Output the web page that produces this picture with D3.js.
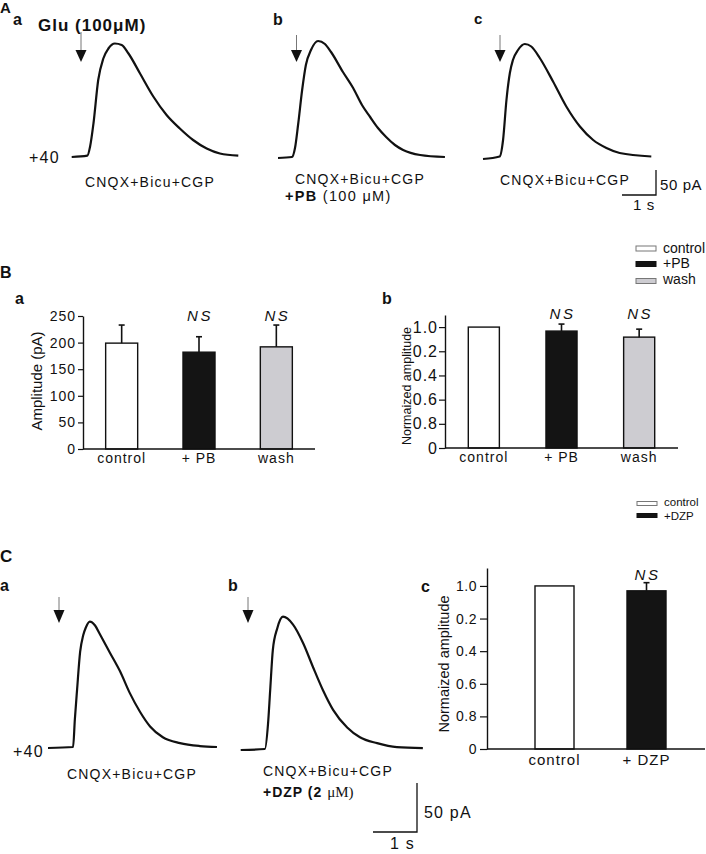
<!DOCTYPE html>
<html>
<head>
<meta charset="utf-8">
<script src="https://cdn.jsdelivr.net/npm/d3@7"></script>
<style>
  html, body { margin: 0; padding: 0; background: #fff; }
  svg { display: block; font-family: "Liberation Sans", Arial, Helvetica, sans-serif; }
</style>
</head>
<body>
<svg id="fig" width="706" height="854"></svg>
<script>
// ---------------- DATA ----------------
// Current traces: [time (s), current (pA)]
const traceA_control = [[0,0],[0.46,2.6],[0.54,20.6],[0.64,67],[0.78,154],[0.93,197],[1.08,217],[1.27,227],[1.47,224],[1.67,207],[2.01,167],[2.40,121],[2.79,84],[3.18,57],[3.57,34],[3.97,17],[4.36,7],[4.90,2.6]];
const traceA_PB = [[0,0],[0.41,2],[0.50,20],[0.59,66],[0.71,136],[0.82,186],[0.97,216],[1.18,234],[1.38,228],[1.56,212],[1.91,172],[2.21,140],[2.47,106],[2.71,82],[2.94,60],[3.18,42],[3.44,26],[3.68,16],[4.18,6],[4.91,2]];
const traceA_wash = [[0,0],[0.49,5],[0.59,38],[0.69,118],[0.79,172],[0.88,198],[1.03,218],[1.23,230],[1.42,225],[1.67,202],[2.06,155],[2.45,105],[2.85,65],[3.24,38],[3.63,22],[4.02,12],[4.95,5]];
const traceC_control = [[0,0],[0.57,1],[0.61,29],[0.66,59],[0.73,98],[0.80,115],[0.86,123],[0.95,129],[1.07,125],[1.18,116],[1.41,97],[1.64,78],[1.86,56],[2.09,37],[2.32,22],[2.61,11],[3.0,5],[3.45,2],[3.84,1]];
const traceC_DZP = [[0,0],[0.55,1],[0.62,26],[0.67,61],[0.73,102],[0.83,124],[0.96,136],[1.19,128],[1.42,109],[1.64,85],[1.87,61],[2.10,41],[2.42,23],[2.71,13],[3.10,7],[3.55,3],[4.14,2]];

// Bar charts
const catsB = ["control", "+ PB", "wash"];
const ampMeanB = [199, 182, 192];
const ampSemB = [34, 29, 41];
const ampTicks = [0, 50, 100, 150, 200, 250];
const normMeanB = [1.0, 0.967, 0.917];
const normSemB = [0, 0.058, 0.066];
const catsC = ["control", "+ DZP"];
const normMeanC = [1.0, 0.97];
const normSemC = [0, 0.05];
const normTickValues = [0, 0.2, 0.4, 0.6, 0.8, 1.0];
const normTickLabels = ["0", "0.8", "0.6", "0.4", "0.2", "1.0"];
const legendB = ["control", "+PB", "wash"];
const legendC = ["control", "+DZP"];
const barFills = ["#ffffff", "#141414", "#cdccd1"];
const nsMarkB = ["", "NS", "NS"];
const nsMarkC = ["", "NS"];

// ---------------- DRAW ----------------
const svg = d3.select("#fig");
const FONT = "'Liberation Sans', Arial, Helvetica, sans-serif";

function txt(x, y, s, o = {}) {
  const t = svg.append("text").attr("x", x).attr("y", y).text(s)
    .attr("font-size", o.size || 14)
    .attr("font-weight", o.bold ? "bold" : "normal")
    .attr("font-style", o.italic ? "italic" : "normal")
    .attr("letter-spacing", o.ls || 0)
    .attr("fill", "#111");
  if (o.anchor) t.attr("text-anchor", o.anchor);
  return t;
}

function arrow(x, yTop, yHead, yTip) {
  svg.append("line").attr("x1", x).attr("x2", x).attr("y1", yTop).attr("y2", yHead)
    .attr("stroke", "#777").attr("stroke-width", 1);
  svg.append("path").attr("d", `M${x-5.5},${yHead} L${x+5.5},${yHead} L${x},${yTip} Z`).attr("fill", "#111");
}

function trace(data, x0, base, pxPerS, pxPerPA) {
  const x = d3.scaleLinear().domain([0, 1]).range([x0, x0 + pxPerS]);
  const y = d3.scaleLinear().domain([0, 1]).range([base, base - pxPerPA]);
  const line = d3.line().x(d => x(d[0])).y(d => y(d[1])).curve(d3.curveMonotoneX);
  svg.append("path").datum(data).attr("d", line)
    .attr("fill", "none").attr("stroke", "#111").attr("stroke-width", 2.2).attr("stroke-linejoin", "round");
  return { x, y };
}

function scaleBar(xRight, yBottom, sx, sy, pA, sec) {
  const h = sy(0) - sy(pA), w = sx(sec) - sx(0);
  svg.append("path").attr("d", `M${xRight - w},${yBottom} L${xRight},${yBottom} L${xRight},${yBottom - h}`)
    .attr("fill", "none").attr("stroke", "#111").attr("stroke-width", 1.3);
}

// ===== Panel A =====
txt(0, 13, "A", { size: 15, bold: true });
txt(13, 25, "a", { size: 16, bold: true });
txt(38, 31, "Glu (100\u03BCM)", { size: 17, bold: true, ls: 1 });
txt(273, 25, "b", { size: 16, bold: true });
txt(474, 24, "c", { size: 15, bold: true });

arrow(81, 32, 50, 62);
arrow(296.5, 35, 50, 62);
arrow(500, 35, 50, 62);

const sA = trace(traceA_control, 71.7, 157, 34, 0.5);
trace(traceA_PB, 278, 158, 34, 0.5);
trace(traceA_wash, 483, 159, 34, 0.5);

txt(29, 163, "+40", { size: 16, ls: 1.2 });
txt(85, 187, "CNQX+Bicu+CGP", { size: 14, ls: 1.2 });
txt(295, 184, "CNQX+Bicu+CGP", { size: 14, ls: 1.2 });
const tAb = txt(285, 201, "", { size: 14.5, ls: 1.3 });
tAb.append("tspan").attr("font-weight", "bold").text("+PB");
tAb.append("tspan").text(" (100 \u03BCM)");
txt(500, 185, "CNQX+Bicu+CGP", { size: 14, ls: 1.2 });

scaleBar(656, 195, sA.x, sA.y, 50, 1);
txt(660, 190, "50 pA", { size: 15, ls: 0.6 });
txt(633, 210, "1 s", { size: 15, ls: 0.6 });

// ===== Panel B =====
txt(0, 278, "B", { size: 16, bold: true });
txt(15, 304, "a", { size: 16, bold: true });
txt(382, 304, "b", { size: 16, bold: true });

function barChart(o) {
  const x = d3.scaleBand().domain(o.cats).range(o.xRange).paddingInner(o.pad).paddingOuter(o.pad / 2);
  const y = d3.scaleLinear().domain(o.yDomain).range([o.yBase, o.yTop]);
  const g = svg.append("g");
  // bars
  g.selectAll("rect.bar").data(o.cats).join("rect").attr("class", "bar")
    .attr("x", d => x(d)).attr("width", x.bandwidth())
    .attr("y", (d, i) => y(o.mean[i])).attr("height", (d, i) => y(0) - y(o.mean[i]))
    .attr("fill", (d, i) => barFills[i]).attr("stroke", "#111").attr("stroke-width", 1.4);
  // error bars
  o.cats.forEach((d, i) => {
    if (!o.sem[i]) return;
    const cx = x(d) + x.bandwidth() / 2;
    g.append("line").attr("x1", cx).attr("x2", cx).attr("y1", y(o.mean[i])).attr("y2", y(o.mean[i] + o.sem[i]))
      .attr("stroke", "#111").attr("stroke-width", 1.6);
    g.append("line").attr("x1", cx - 3).attr("x2", cx + 3).attr("y1", y(o.mean[i] + o.sem[i])).attr("y2", y(o.mean[i] + o.sem[i]))
      .attr("stroke", "#111").attr("stroke-width", 1.6);
    if (o.ns[i]) {
      g.append("text").attr("x", cx + 1).attr("y", o.nsY).attr("text-anchor", "middle")
        .attr("font-size", 15).attr("font-style", "italic").attr("letter-spacing", 2.5).attr("fill", "#111").text(o.ns[i]);
    }
  });
  // y axis
  const ya = d3.axisLeft(y).tickValues(o.tickValues).tickFormat((d, i) => o.tickLabels[i])
    .tickSize(o.tickSize).tickPadding(o.tickPad).tickSizeOuter(0);
  const yg = g.append("g").attr("transform", `translate(${o.axisX},0)`).call(ya);
  yg.select(".domain").attr("stroke", "#111").attr("stroke-width", 1.4);
  yg.selectAll(".tick line").attr("stroke", "#111").attr("stroke-width", 1.2);
  yg.selectAll(".tick text").attr("font-size", o.tickFont).attr("font-family", FONT)
    .attr("letter-spacing", o.tickLs).attr("fill", "#111");
  // x axis
  g.append("line").attr("x1", o.axisX).attr("x2", o.axisXEnd).attr("y1", o.yBase).attr("y2", o.yBase)
    .attr("stroke", "#111").attr("stroke-width", 1.4);
  const xa = d3.axisBottom(x).tickSize(0).tickPadding(o.xLabPad);
  const xg = g.append("g").attr("transform", `translate(0,${o.yBase})`).call(xa);
  xg.select(".domain").remove();
  xg.selectAll(".tick text").attr("font-size", o.xFont).attr("font-family", FONT).attr("letter-spacing", 1).attr("fill", "#111");
  // y label
  g.append("text").attr("transform", `translate(${o.labX},${o.labY}) rotate(-90)`)
    .attr("text-anchor", "middle").attr("font-size", o.labFont).attr("fill", "#111").text(o.label);
  return { x, y };
}

barChart({
  cats: catsB, mean: ampMeanB, sem: ampSemB, ns: nsMarkB, nsY: 321,
  xRange: [83, 315], pad: 0.586, yDomain: [0, 250], yBase: 449, yTop: 316,
  axisX: 83, axisXEnd: 315, tickValues: ampTicks, tickLabels: ampTicks.map(String),
  tickSize: 5, tickPad: 2, tickFont: 14, tickLs: 1, xFont: 14, xLabPad: 4,
  label: "Amplitude (pA)", labX: 42, labY: 381, labFont: 15
});

barChart({
  cats: catsB, mean: normMeanB, sem: normSemB, ns: nsMarkB, nsY: 319,
  xRange: [445, 678], pad: 0.6, yDomain: [0, 1.1], yBase: 448, yTop: 315,
  axisX: 445, axisXEnd: 678, tickValues: normTickValues, tickLabels: normTickLabels,
  tickSize: 6, tickPad: 1, tickFont: 16, tickLs: 1, xFont: 14, xLabPad: 4,
  label: "Normaized amplitude", labX: 411, labY: 386, labFont: 12.5
});

function legend(items, x, textYs, rectYs, rectH, fontSize) {
  items.forEach((s, i) => {
    svg.append("rect").attr("x", x).attr("y", rectYs[i]).attr("width", 20).attr("height", rectH)
      .attr("fill", barFills[i]).attr("stroke", i === 1 ? "#111" : "#777").attr("stroke-width", 1);
    txt(x + 27, textYs[i], s, { size: fontSize });
  });
}
legend(legendB, 636, [253, 268, 284], [246, 261.5, 278.5], 5, 14);

// ===== Panel C =====
txt(0, 562, "C", { size: 17, bold: true });
txt(0, 591, "a", { size: 16, bold: true });
txt(228, 591, "b", { size: 16, bold: true });
txt(421, 592, "c", { size: 16, bold: true });

arrow(59, 597, 610, 623);
arrow(248, 597, 610, 623);

const sC = trace(traceC_control, 48, 748, 44, 0.98);
trace(traceC_DZP, 240.7, 750, 44, 0.98);

txt(13, 757, "+40", { size: 16, ls: 1.2 });
txt(67, 779, "CNQX+Bicu+CGP", { size: 14, ls: 1.2 });
txt(263, 776, "CNQX+Bicu+CGP", { size: 14, ls: 1.2 });
const tCb = txt(263, 797, "", { size: 14, ls: 1 });
tCb.append("tspan").attr("font-weight", "bold").text("+DZP (2 ");
tCb.append("tspan").attr("font-family", "'Liberation Serif', 'Times New Roman', serif").attr("font-size", 15).attr("letter-spacing", 0).text("\u03BCM)");

scaleBar(417, 832, sC.x, sC.y, 50, 1);
txt(424, 818, "50 pA", { size: 16, ls: 1.2 });
txt(390, 849, "1 s", { size: 16, ls: 1.2 });

barChart({
  cats: catsC, mean: normMeanC, sem: normSemC, ns: nsMarkC, nsY: 580,
  xRange: [508.5, 692.5], pad: 0.576, yDomain: [0, 1.11], yBase: 749, yTop: 568,
  axisX: 487, axisXEnd: 705, tickValues: normTickValues, tickLabels: normTickLabels,
  tickSize: 7, tickPad: 3, tickFont: 14, tickLs: 0.5, xFont: 15, xLabPad: 5,
  label: "Normaized amplitude", labX: 449, labY: 664, labFont: 14.5
});

legend(legendC, 637, [506, 520], [501.5, 513.5], 4, 11.5);
</script>
</body>
</html>
